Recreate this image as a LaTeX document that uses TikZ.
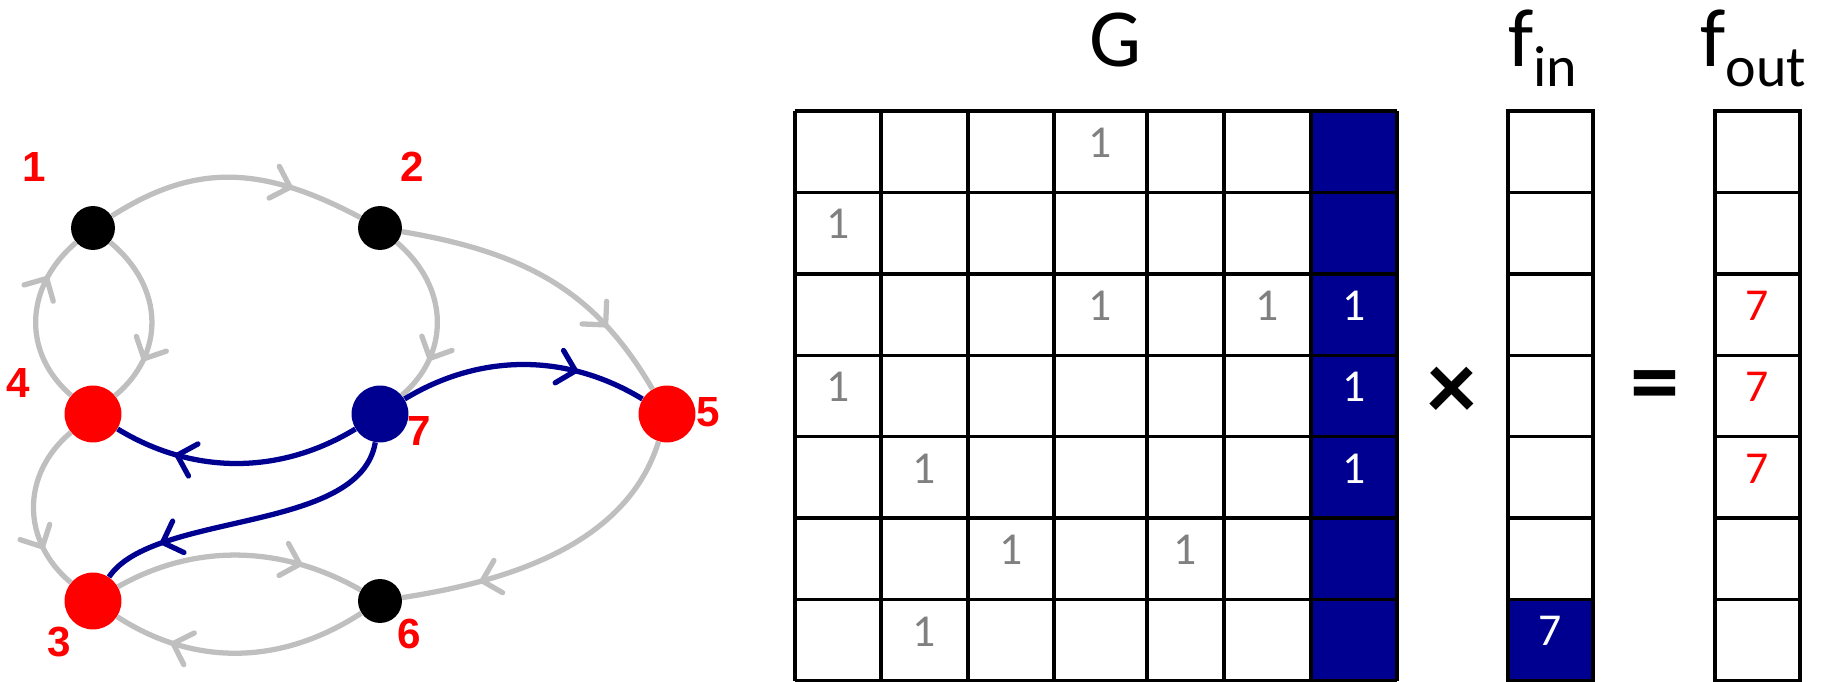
\documentclass[tikz,border=0pt]{standalone}
\usepackage{fontspec}
\setmainfont{Carlito}
\newfontfamily\labelfont{Liberation Sans}
\usetikzlibrary{arrows.meta, decorations.markings}
\definecolor{vblue}{HTML}{000090}
\definecolor{egray}{HTML}{BFBFBF}
\definecolor{ngray}{HTML}{808080}

\begin{document}
\begin{tikzpicture}[x=0.02cm, y=-0.02cm,
  vtx/.style={circle, inner sep=0pt, fill=#1, minimum size=32.4pt},
  vsmall/.style={circle, inner sep=0pt, fill=black, minimum size=25pt},
  lbl/.style={inner sep=0pt, text=red, font=\labelfont\bfseries\fontsize{24}{24}\selectfont},
  gedge/.style={line width=3pt, egray},
  bedge/.style={line width=3pt, vblue},
  mid/.style={postaction={decorate}, decoration={markings,
      mark=at position #1 with {\arrow{Straight Barb[length=9.5pt, width=19pt, round]}}}},
  grid/.style={line width=1.9pt, black},
  num/.style={inner sep=0pt, font=\fontsize{26}{26}\selectfont, text=#1},
  head/.style={inner sep=0pt, font=\fontsize{47}{47}\selectfont},
  op/.style={inner sep=0pt, font=\fontsize{56}{56}\selectfont},
]
  \useasboundingbox (0,0) rectangle (1826,682);

  % graph
  \node[vsmall] (v1) at (93,228) {};
  \node[vsmall] (v2) at (380,228) {};
  \node[vtx=red] (v4) at (93,414) {};
  \node[vtx=vblue] (v7) at (380,414) {};
  \node[vtx=red] (v5) at (667,414) {};
  \node[vtx=red] (v3) at (93,601) {};
  \node[vsmall] (v6) at (380,601) {};

  \node[lbl] (l1) at (34,167) {1};
  \node[lbl] (l2) at (412,167) {2};
  \node[lbl] (l3) at (59,642) {3};
  \node[lbl] (l4) at (18,383) {4};
  \node[lbl] (l5) at (708,412) {5};
  \node[lbl] (l6) at (409,634) {6};
  \node[lbl] (l7) at (419,431) {7};

  \draw[gedge, mid=0.72] (v1) .. controls +(100,-64) and +(-120,-64) .. (v2);
  \draw[gedge, mid=0.75] (v4) .. controls +(-70,-60) and +(-70,60) .. (v1);
  \draw[gedge, mid=0.75] (v1) .. controls +(72,60) and +(72,-60) .. (v4);
  \draw[gedge, mid=0.75] (v4) .. controls +(-72,60) and +(-72,-60) .. (v3);
  \draw[gedge, mid=0.75] (v2) .. controls +(70,60) and +(70,-60) .. (v7);
  \draw[gedge, mid=0.75] (v2) .. controls +(150,25) and +(-70,-120) .. (v5);
  \draw[gedge, mid=0.75] (v3) .. controls +(100,-57) and +(-100,-57) .. (v6);
  \draw[gedge, mid=0.77] (v6) .. controls +(-100,65) and +(100,65) .. (v3);
  \draw[gedge, mid=0.75] (v5) .. controls +(-40,130) and +(130,-20) .. (v6);
  \draw[bedge, mid=0.72] (v7) .. controls +(100,-61) and +(-100,-61) .. (v5);
  \draw[bedge, mid=0.75] (v7) .. controls +(-100,61) and +(100,61) .. (v4);
  \draw[bedge, mid=0.8] (v7) .. controls +(-20,120) and +(60,-90) .. (v3);

  % matrix G and the two vectors
  \fill[vblue] (1311,111) rectangle (1397,681);
  \fill[vblue] (1508,599.6) rectangle (1593,681);
  \foreach \k in {0,...,7}
    \draw[grid] (795,111+\k*81.43) -- (1397,111+\k*81.43);
  \foreach \x in {795,881,968,1054,1147,1224,1311,1397}
    \draw[grid] (\x,111) -- (\x,681);
  \foreach \x in {1508,1715} {
    \draw[grid] (\x,111) rectangle +(85,570);
    \foreach \k in {1,...,6}
      \draw[grid] (\x,111+\k*81.43) -- +(85,0);
  }

  \node[head] (G) at (1116,40) {G};
  \node[head, anchor=base west] (fin) at (1508,67)
    {f\raisebox{-11pt}{\fontsize{33}{33}\selectfont in}};
  \node[head, anchor=base west] (fout) at (1700,67)
    {f\raisebox{-11pt}{\fontsize{33}{33}\selectfont out}};
  \node[op] (times) at (1452,393) {\textbf{×}};
  \node[op] (equals) at (1655,393) {\textbf{=}};

  \node[num=ngray] (g14) at (1100.5,142.7) {1};
  \node[num=ngray] (g21) at (838,224.1) {1};
  \node[num=ngray] (g34) at (1100.5,305.6) {1};
  \node[num=ngray] (g36) at (1267.5,305.6) {1};
  \node[num=white] (g37) at (1354,305.6) {1};
  \node[num=ngray] (g41) at (838,387) {1};
  \node[num=white] (g47) at (1354,387) {1};
  \node[num=ngray] (g52) at (924.5,468.4) {1};
  \node[num=white] (g57) at (1354,468.4) {1};
  \node[num=ngray] (g63) at (1011,549.9) {1};
  \node[num=ngray] (g65) at (1185.5,549.9) {1};
  \node[num=ngray] (g72) at (924.5,631.3) {1};
  \node[num=white] (fin7) at (1550,631.3) {7};
  \node[num=red] (fout3) at (1757.5,305.6) {7};
  \node[num=red] (fout4) at (1757.5,387) {7};
  \node[num=red] (fout5) at (1757.5,468.4) {7};
\end{tikzpicture}
\end{document}
